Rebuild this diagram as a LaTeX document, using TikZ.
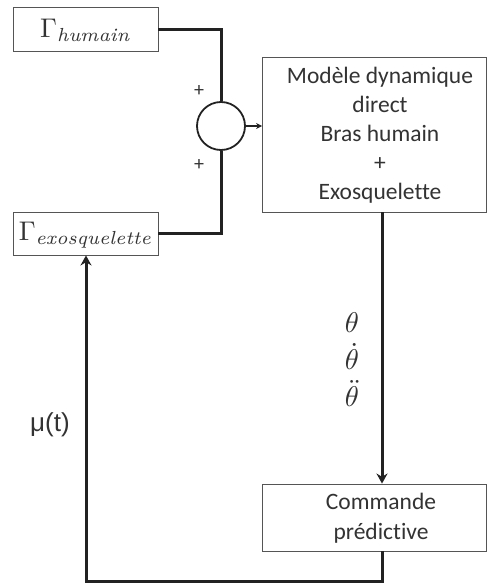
\documentclass[tikz,border=0pt]{standalone}
\usepackage{amsmath}
\usepackage{graphicx}
\usepackage{fontspec}
\newfontfamily\carlito[Ligatures={NoCommon}]{Carlito}
\newfontfamily\libsans{Liberation Sans}
\usetikzlibrary{arrows.meta}
\definecolor{boxgray}{HTML}{555555}
\definecolor{linedark}{HTML}{222222}
\definecolor{txt}{HTML}{333333}
\begin{document}
\begin{tikzpicture}[x=1pt,y=-1pt,
  blk/.style={draw=boxgray,line width=0.9pt,fill=white,inner sep=0pt},
  conn/.style={draw=linedark,line width=3pt},
  tipA/.style={-{Stealth[length=10pt,width=11pt]}},
  tipS/.style={-{Stealth[length=6pt,width=6pt]}},
  lbl/.style={text=txt,font=\carlito\fontsize{23.5}{29}\selectfont,align=center},
  thl/.style={text=txt,inner sep=0pt,align=center,font=\fontsize{10}{37}\selectfont}
]
\useasboundingbox (0,0) rectangle (490,583);
% boxes
\node[blk,minimum width=145pt,minimum height=44pt] (hum) at (85.5,29) {};
\node[text=txt] (humt) at (85.5,30) {\scalebox{2.7}{$\Gamma_{\mathit{humain}}$}};
\node[blk,minimum width=145pt,minimum height=43pt] (exo) at (85.5,233.5) {};
\node[text=txt] (exot) at (85.5,235) {\scalebox{2.7}{$\Gamma_{\mathit{exosquelette}}$}};
\node[draw=linedark,line width=1.8pt,circle,minimum size=48pt,inner sep=0pt] (sum) at (221,126) {};
\node[blk,minimum width=224pt,minimum height=155pt] (mod) at (374.5,134.5) {};
\node[lbl] (modt) at (380,135.5) {Modèle dynamique\\direct\\Bras humain\\+\\Exosquelette};
\node[blk,minimum width=224pt,minimum height=67pt] (cmd) at (374.5,517.5) {};
\node[lbl,font=\carlito\fontsize{23.5}{30}\selectfont] (cmdt) at (381,518) {Commande\\prédictive};
% signs and labels
\node[text=txt,font=\carlito\fontsize{20}{20}\selectfont] (p1) at (199,91) {+};
\node[text=txt,font=\carlito\fontsize{20}{20}\selectfont] (p2) at (199,165) {+};
\node[thl] (th) at (352,360) {\scalebox{2.85}{$\theta$}\\\scalebox{2.85}{$\dot\theta$}\\\scalebox{2.85}{$\ddot\theta$}};
\node[text=txt,font=\libsans\fontsize{26}{26}\selectfont] (mu) at (50,425) {μ(t)};
% coordinates
\coordinate (c1) at (221,30);
\coordinate (c2) at (221,233);
\coordinate (c3) at (382,581.5);
\coordinate (c4) at (86,581.5);
% connectors
\draw[conn] (hum.east |- c1) -- (c1) -- (sum.north);
\draw[conn] (exo.east |- c2) -- (c2) -- (sum.south);
\draw[conn,line width=1.8pt,tipS] (sum.east) -- (mod.west |- sum.east);
\draw[conn,tipA] (mod.south -| c3) -- (cmd.north -| c3);
\draw[conn,tipA] (cmd.south -| c3) -- (c3) -- (c4) -- (exo.south -| c4);
\end{tikzpicture}
\end{document}
